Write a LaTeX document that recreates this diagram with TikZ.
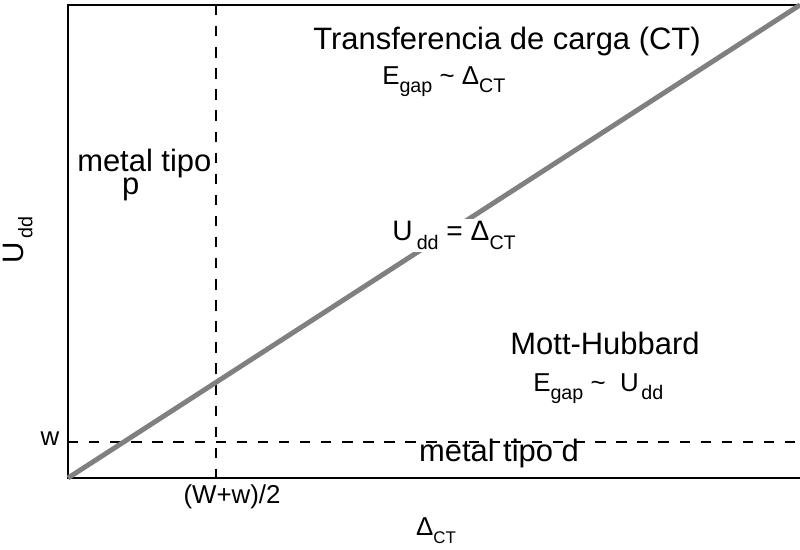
\documentclass[tikz,border=0pt]{standalone}
\usepackage{fontspec}
\setmainfont{Liberation Sans}
\usetikzlibrary{positioning}
\definecolor{diaggray}{RGB}{128,128,128}
\newcommand{\subtxt}[2][14]{\raisebox{-0.3em}{\fontsize{#1}{#1}\selectfont #2}}

\begin{document}
\begin{tikzpicture}[
      lbl/.style={inner sep=0pt, font=\fontsize{22}{26}\selectfont},
      gaplbl/.style={inner sep=0pt, font=\fontsize{18.4}{22}\selectfont},
      tick/.style={inner sep=0pt, font=\fontsize{18.4}{22}\selectfont},
      axisline/.style={line width=2pt, black},
      guide/.style={line width=2pt, black, dash pattern=on 7.4pt off 7.6pt},
      diag/.style={line width=3.5pt, diaggray}
    ]
    \useasboundingbox (-1.7,-1.8) rectangle (18.3,11.95);

    \coordinate (o) at (0,0);
    \coordinate (tl) at (0,11.825);
    \coordinate (tr) at (18.3,11.825);
    \coordinate (br) at (18.3,0);
    \coordinate (vtop) at (3.7,11.825);
    \coordinate (vbot) at (3.7,0);
    \coordinate (hl) at (0,0.9);
    \coordinate (hr) at (18.3,0.9);

    % frame
    \draw[axisline] (tr) -- (tl) -- (o) -- (br);

    % guide lines
    \draw[guide] (vtop) -- (vbot);
    \draw[guide] (hl) -- (hr);

    % boundary U = Delta
    \draw[diag] (o) -- (tr);

    \node[lbl, anchor=base] (ct) at (10.975,10.7) {Transferencia de carga (CT)};
    \node[gaplbl, anchor=base west] (ctgap) at (7.85,9.825)
      {E\subtxt{gap} \textasciitilde{} Δ\subtxt{CT}};
    \node[lbl, font=\fontsize{20}{24}\selectfont, anchor=base, fill=white,
          inner sep=2pt] (eq) at (9.65,5.925)
      {U\hspace{0.15em}\subtxt{dd} = Δ\subtxt{CT}};
    \node[lbl, anchor=base] (mh) at (13.425,3.075) {Mott-Hubbard};
    \node[gaplbl, anchor=base west] (mhgap) at (11.625,2.15)
      {E\subtxt{gap} \textasciitilde{}\ \ U\hspace{0.1em}\subtxt{dd}};
    \node[lbl, anchor=base] (md) at (10.775,0.4) {metal tipo d};
    \node[lbl, font=\fontsize{22}{22}\selectfont, align=left,
          anchor=base west] (mp) at (0.225,7.075)
      {metal tipo\\[-5pt]\hspace*{1.45em}p};

    % axis texts
    \node[tick, anchor=base] (wtick) at (-0.45,0.8) {w};
    \node[tick, anchor=base] (Wtick) at (4.1,-0.65) {(W+w)/2};
    \node[tick, anchor=base] (xlab) at (9.2,-1.45) {Δ\subtxt[12]{CT}};
    \node[tick, font=\fontsize{21}{24}\selectfont, rotate=90] (ylab)
      at (-1.25,5.95) {U\hspace{0.15em}\subtxt[14]{dd}};
  \end{tikzpicture}
\end{document}
